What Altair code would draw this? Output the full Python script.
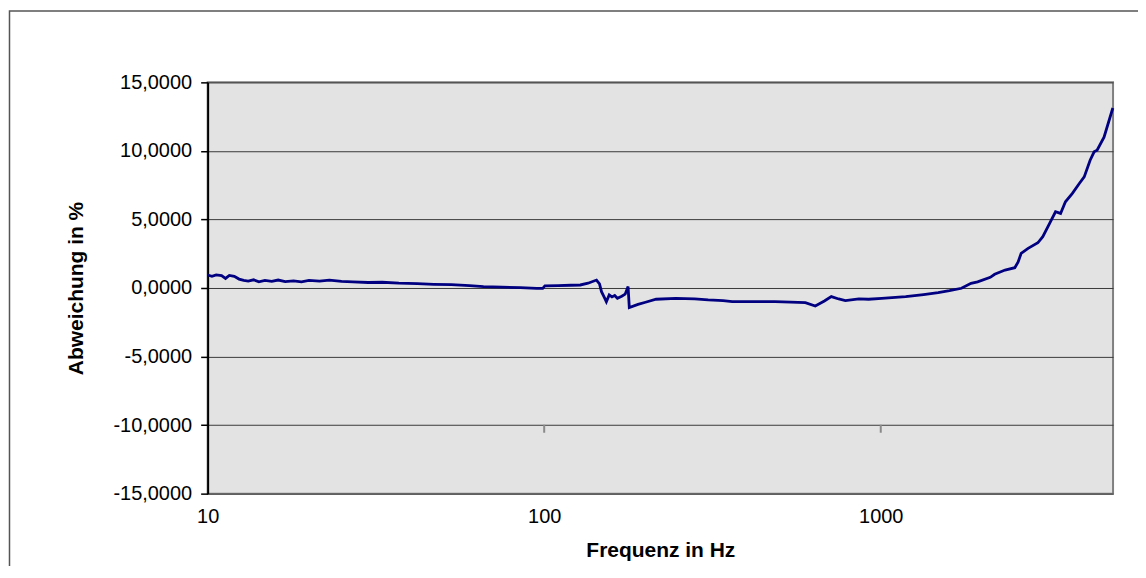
import altair as alt
import pandas as pd

freq = [10.0, 10.3, 10.6, 11.0, 11.3, 11.6, 12.0, 12.4, 12.8, 13.2, 13.7, 14.2, 14.8,
        15.5, 16.2, 17.0, 18.0, 19.0, 20.0, 21.5, 23.0, 25.0, 27.0, 30.0, 33.0, 37.0,
        42.0, 47.0, 53.0, 60.0, 66.0, 75.0, 85.0, 95.0, 99.0, 100.5, 110, 120, 128,
        135, 143, 146, 148, 151, 153, 156, 159, 162, 165, 170, 174, 177.5, 179, 190,
        200, 215, 246, 280, 307, 340, 362, 420, 485, 540, 597, 639, 680, 713, 750,
        785, 861, 920, 1007, 1186, 1340, 1481, 1600, 1737, 1855, 1940, 2116, 2180,
        2341, 2502, 2560, 2613, 2740, 2930, 3030, 3175, 3306, 3422, 3538, 3710, 3890,
        4023, 4189, 4305, 4393, 4607, 4893]
deviation = [0.95, 0.85, 0.95, 0.90, 0.70, 0.92, 0.85, 0.65, 0.55, 0.50, 0.60, 0.45, 0.55,
             0.48, 0.58, 0.47, 0.52, 0.45, 0.55, 0.50, 0.58, 0.48, 0.45, 0.40, 0.42, 0.35,
             0.32, 0.27, 0.24, 0.18, 0.10, 0.06, 0.02, -0.02, -0.03, 0.15, 0.18, 0.20, 0.22,
             0.35, 0.58, 0.30, -0.27, -0.70, -1.0, -0.5, -0.65, -0.55, -0.75, -0.60, -0.45,
             0.10, -1.43, -1.20, -1.04, -0.82, -0.75, -0.80, -0.87, -0.92, -1.00, -1.00,
             -1.00, -1.03, -1.07, -1.31, -0.95, -0.63, -0.80, -0.92, -0.80, -0.82, -0.75,
             -0.63, -0.48, -0.34, -0.20, -0.02, 0.34, 0.45, 0.78, 1.00, 1.31, 1.48, 1.9,
             2.53, 2.89, 3.30, 3.74, 4.71, 5.56, 5.44, 6.29, 6.90, 7.62, 8.10, 9.32, 9.93,
             10.05, 11.0, 13.13]

x_ticks = [10, 100, 1000]
y_ticks = [-15, -10, -5, 0, 5, 10, 15]
x_domain = [10, 4900]
y_domain = [-15, 15]

df = pd.DataFrame({"f": freq, "d": deviation})
tick_df = pd.DataFrame({"f": [100, 1000]})
frame_df = pd.DataFrame({"k": [0]})

FONT = "Liberation Sans"

xscale = alt.Scale(type="log", domain=x_domain, nice=False)
yscale = alt.Scale(domain=y_domain, nice=False, zero=False)

line = alt.Chart(df).mark_line(color="#000080", strokeWidth=2.8).encode(
    x=alt.X("f:Q", scale=xscale,
            axis=alt.Axis(values=x_ticks, title="Frequenz in Hz", ticks=False, domain=False,
                          grid=False, labelPadding=13, labelFontSize=20, labelFont=FONT,
                          labelExpr="format(datum.value, 'd')",
                          labelColor="#000", labelFlush=False,
                          titleFont=FONT, titleFontSize=21, titleFontWeight="bold",
                          titleColor="#000", titleY=57, titleBaseline="middle")),
    y=alt.Y("d:Q", scale=yscale,
            axis=alt.Axis(values=y_ticks, title="Abweichung in %",
                          labelExpr="(datum.value < 0 ? '-' : '') + replace(format(abs(datum.value), '.4f'), '.', ',')",
                          tickSize=7, tickColor="#000", tickWidth=1.5,
                          domainColor="#000", domainWidth=2,
                          grid=True, gridColor="#3a3a3a", gridWidth=1,
                          labelPadding=9, labelFontSize=20, labelFont=FONT, labelColor="#000",
                          titleFont=FONT, titleFontSize=21, titleFontWeight="bold",
                          titleColor="#000", titleAngle=270, titleX=-131, titleY=206,
                          titleAlign="center", titleBaseline="middle")),
)

xticks_mid = alt.Chart(tick_df).mark_rule(color="#8a8a8a", strokeWidth=2).encode(
    x=alt.X("f:Q", scale=xscale),
    y=alt.value(343),
    y2=alt.value(351),
)

frame = alt.Chart(frame_df).mark_rect(fill="transparent", stroke="#555555", strokeWidth=1.5).encode(
    x=alt.value(-198.5), x2=alt.value(960), y=alt.value(-71.5), y2=alt.value(620)
)

chart = alt.layer(frame, line, xticks_mid).properties(
    width=907, height=412,
    autosize=alt.AutoSizeParams(type="none"),
    padding={"left": 200, "top": 74, "right": 25, "bottom": 72},
    background="white",
).configure_view(
    fill="#e3e3e3", stroke="#808080", strokeWidth=2
)

chart.save("out.html", embed_options={"renderer": "svg", "actions": False})
